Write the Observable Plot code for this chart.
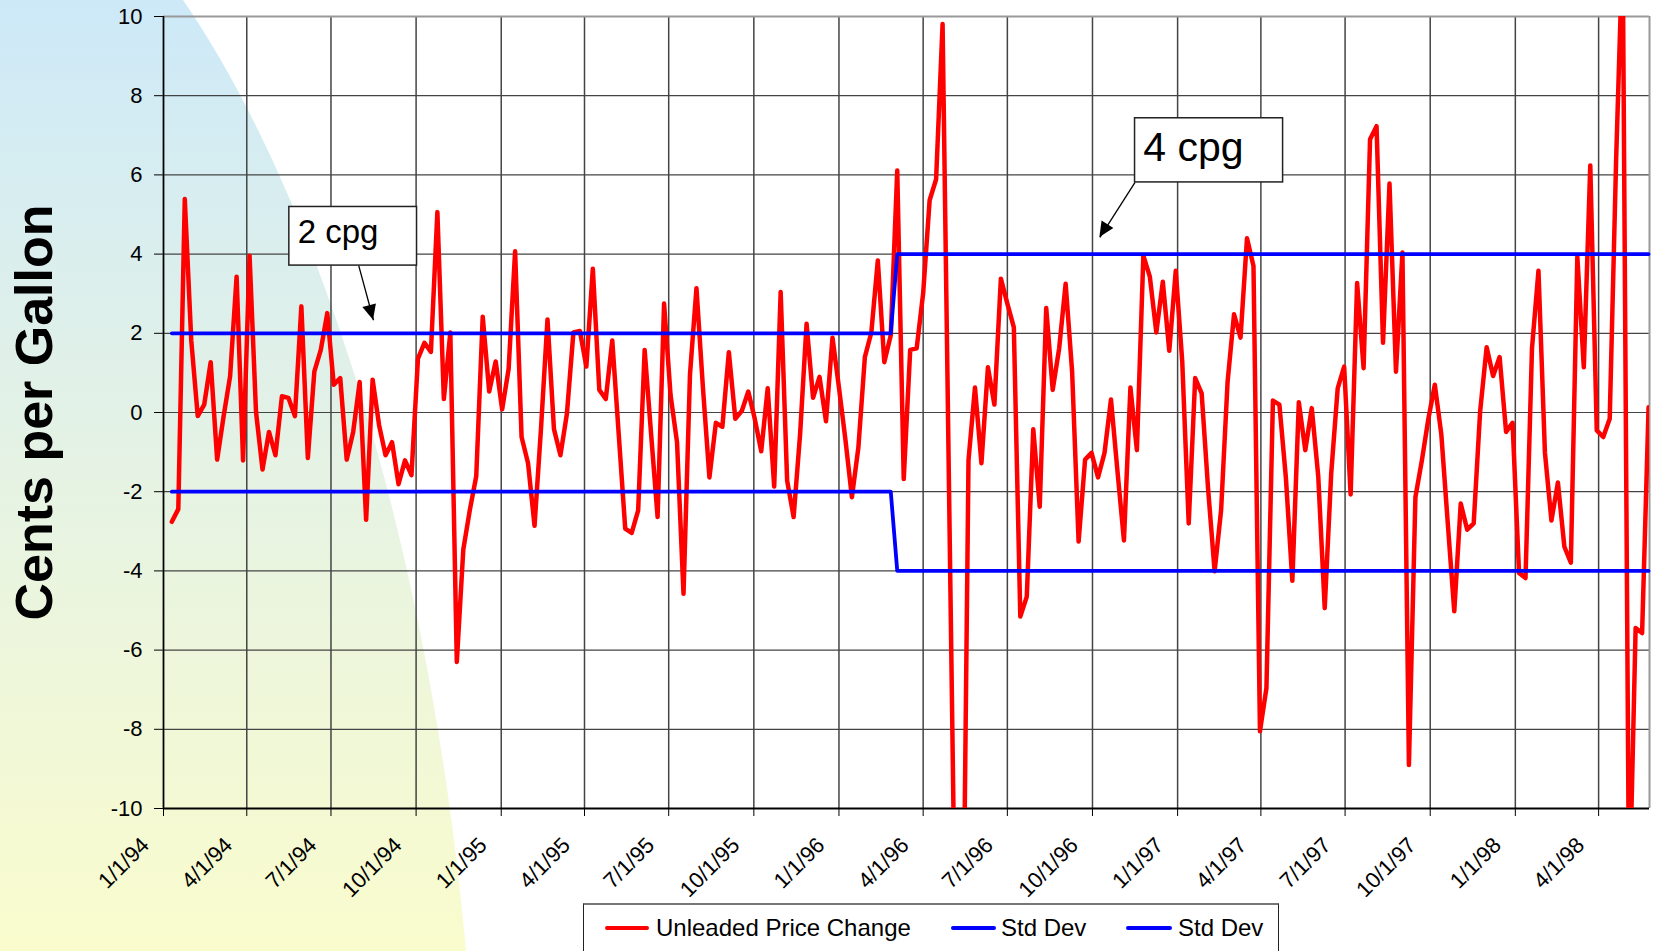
<!DOCTYPE html>
<html><head><meta charset="utf-8">
<script src="https://cdn.jsdelivr.net/npm/d3@7"></script>
<script src="https://cdn.jsdelivr.net/npm/@observablehq/plot@0.6"></script>
<style>
html,body{margin:0;padding:0;background:#fff;overflow:hidden;width:1660px;height:951px;}
#wrap{position:relative;width:1660px;height:951px;font-family:"Liberation Sans",Arial,sans-serif;}
#bg{position:absolute;left:0;top:0;}
#chart{position:absolute;left:0;top:0;}
#legend{position:absolute;left:583px;top:903px;width:696px;height:60px;background:#fff;border:1px solid #222;border-top:2px solid #777;box-sizing:border-box;}
.item{position:absolute;top:8px;font-size:24px;line-height:30px;white-space:nowrap;color:#000;}
.sw{position:absolute;height:4px;top:21px;border-radius:2px;}
</style></head>
<body><div id="wrap">
<svg id="bg" width="1660" height="951"><defs><linearGradient id="g" x1="0" y1="0" x2="0" y2="1"><stop offset="0" stop-color="#cde9f8"/><stop offset="0.5" stop-color="#e6f3e4"/><stop offset="1" stop-color="#fafccd"/></linearGradient></defs><path d="M0,0 L183,0 C300,170 425,500 466,951 L0,951 Z" fill="url(#g)"/></svg>
<div id="chart"></div>
<div id="legend"></div>
</div>
<script>
// ---- data ----
const firstWeek = "1994-01-10";
const priceChange = [
 -2.76,-2.44,5.39,1.82,-0.09,0.2,1.27,-1.19,-0.09,0.92,
 3.43,-1.21,3.96,0.01,-1.44,-0.49,-1.08,0.41,0.37,-0.09,
 2.68,-1.15,1.03,1.58,2.51,0.7,0.87,-1.19,-0.49,0.77,
 -2.71,0.83,-0.32,-1.08,-0.75,-1.81,-1.21,-1.58,1.36,1.76,
 1.53,5.06,0.34,2.02,-6.30,-3.46,-2.47,-1.61,2.42,0.53,
 1.29,0.08,1.1,4.07,-0.62,-1.28,-2.86,-0.4,2.35,-0.42,
 -1.08,-0.03,2.02,2.06,1.16,3.63,0.57,0.34,1.82,-0.55,
 -2.93,-3.04,-2.47,1.58,-0.55,-2.64,2.75,0.44,-0.75,-4.58,
 0.96,3.14,0.63,-1.64,-0.26,-0.36,1.52,-0.16,0.04,0.53,
 -0.16,-0.98,0.61,-1.87,3.04,-1.72,-2.64,-0.55,2.24,0.37,
 0.90,-0.22,1.89,0.63,-0.69,-2.14,-0.88,1.40,2.02,3.84,
 1.27,1.95,6.11,-1.68,1.58,1.62,3.01,5.36,5.89,9.81,
 -2.0,-13.8,-16.5,-1.21,0.63,-1.28,1.14,0.2,3.38,2.75,
 2.15,-5.15,-4.65,-0.42,-2.38,2.64,0.57,1.62,3.25,1.03,
 -3.26,-1.19,-1.02,-1.64,-1.02,0.33,-1.48,-3.23,0.63,-0.95,
 3.96,3.43,2.02,3.30,1.56,3.58,1.29,-2.80,0.87,0.48,
 -1.94,-4.01,-2.47,0.77,2.48,1.89,4.40,3.70,-8.05,-6.96,
 0.30,0.20,-1.64,-4.25,0.26,-0.95,0.11,-1.61,-4.94,-1.54,
 0.61,1.16,-2.07,3.27,1.12,6.90,7.23,1.76,5.78,1.03,
 4.04,-8.90,-2.14,-1.21,-0.16,0.70,-0.55,-2.80,-5.02,-2.30,
 -2.96,-2.80,0.04,1.65,0.92,1.40,-0.49,-0.26,-4.05,-4.18,
 1.62,3.58,-1.02,-2.73,-1.77,-3.39,-3.79,3.93,1.14,6.24,
 -0.45,-0.62,-0.16,6.44,11.8,-12.6,-5.44,-5.57,0.13
];
const stdDevLevels = [2, 4];
const stdDevWeeks = [112, 117];
const xTickLabels = ["1/1/94","4/1/94","7/1/94","10/1/94","1/1/95","4/1/95","7/1/95","10/1/95","1/1/96","4/1/96","7/1/96","10/1/96","1/1/97","4/1/97","7/1/97","10/1/97","1/1/98","4/1/98"];
const yTicks = [-10,-8,-6,-4,-2,0,2,4,6,8,10];
const xDomainLabels = ["1/1/94","5/26/98"];
const seriesNames = ["Unleaded Price Change","Std Dev","Std Dev"];
const seriesColors = ["#ff0000","#0000ff","#0000ff"];
const annotations = [
  {text:"2 cpg", box:["5/17/94","10/2/94",3.71,5.19], textAt:["5/26/94",4.55], size:33, from:["7/31/94",3.71], to:["8/16/94",2.33]},
  {text:"4 cpg", box:["11/16/96","4/25/97",5.81,7.43], textAt:["11/25/96",6.68], size:41, from:["11/16/96",5.81], to:["10/9/96",4.42]}
];

// ---- build ----
const parse = s => { const [m,d,y] = s.split("/").map(Number); return new Date(Date.UTC(1900 + y, m - 1, d)); };
const start = d3.utcParse("%Y-%m-%d")(firstWeek);
const dates = priceChange.map((_, i) => d3.utcDay.offset(start, 7 * i));
const rows = priceChange.map((v, i) => ({date: dates[i], value: v}));
const stdRows = [];
let idx = 0;
stdDevLevels.forEach((lv, k) => { for (let j = 0; j < stdDevWeeks[k]; j++, idx++) stdRows.push({date: dates[idx], upper: lv, lower: -lv}); });
const xTicks = xTickLabels.map(parse);
const xDomain = xDomainLabels.map(parse);
const font = "'Liberation Sans', Arial, sans-serif";

const ann = annotations.map(a => ({
  text: a.text, size: a.size,
  bx1: parse(a.box[0]), bx2: parse(a.box[1]), by1: a.box[2], by2: a.box[3],
  tx: parse(a.textAt[0]), ty: a.textAt[1],
  fx: parse(a.from[0]), fy: a.from[1], ex: parse(a.to[0]), ey: a.to[1]
}));

const plot = Plot.plot({
  width: 1660, height: 905,
  marginLeft: 163, marginRight: 11, marginTop: 16, marginBottom: 97,
  style: {background: "transparent", fontSize: "22px", fontFamily: font, color: "#000"},
  x: {type: "utc", domain: xDomain, ticks: xTicks, tickFormat: () => "", tickSize: 8, label: null},
  y: {domain: [-10, 10], ticks: yTicks, tickFormat: d => String(d), tickSize: 9, tickPadding: 12, label: null},
  marks: [
    Plot.ruleY(yTicks, {stroke: "#444", strokeWidth: 1.2}),
    Plot.ruleX(xTicks, {stroke: "#444", strokeWidth: 1.5}),
    Plot.ruleY([10], {stroke: "#999", strokeWidth: 2}),
    Plot.ruleX([xDomain[1]], {stroke: "#999", strokeWidth: 2}),
    Plot.ruleX([xDomain[0]], {stroke: "#000", strokeWidth: 1.5}),
    Plot.ruleY([-10], {stroke: "#000", strokeWidth: 2}),
    Plot.lineY(rows, {x: "date", y: "value", stroke: seriesColors[0], strokeWidth: 4.5, clip: true}),
    Plot.lineY(stdRows, {x: "date", y: "upper", stroke: seriesColors[1], strokeWidth: 3.8}),
    Plot.lineY(stdRows, {x: "date", y: "lower", stroke: seriesColors[2], strokeWidth: 3.8}),
    Plot.text(xTickLabels, {x: parse, text: d => d, frameAnchor: "bottom", rotate: -45, textAnchor: "end", dx: -13, dy: 38, fontSize: 22}),
    Plot.text(["Cents per Gallon"], {frameAnchor: "left", textAnchor: "middle", rotate: -90, dx: -128, fontSize: 52, fontWeight: "bold"}),
    Plot.link(ann, {x1: "fx", y1: "fy", x2: "ex", y2: "ey", stroke: "#000", strokeWidth: 1.3}),
    Plot.rect(ann, {x1: "bx1", x2: "bx2", y1: "by1", y2: "by2", fill: "#fff", stroke: "#222", strokeWidth: 1.5}),
    Plot.text(ann, {x: "tx", y: "ty", text: "text", textAnchor: "start", fontSize: d => d.size})
  ]
});
document.getElementById("chart").appendChild(plot);

// filled arrowheads
const sx = plot.scale("x"), sy = plot.scale("y");
const svg = d3.select(plot.tagName.toLowerCase() === "svg" ? plot : plot.querySelector("svg"));
ann.forEach(a => {
  const x1 = sx.apply(a.fx), y1 = sy.apply(a.fy), x2 = sx.apply(a.ex), y2 = sy.apply(a.ey);
  const ang = Math.atan2(y2 - y1, x2 - x1), L = 15, W = 7;
  const bx = x2 - L * Math.cos(ang), by = y2 - L * Math.sin(ang);
  const px = -Math.sin(ang) * W, py = Math.cos(ang) * W;
  svg.append("polygon").attr("points", `${x2},${y2} ${bx + px},${by + py} ${bx - px},${by - py}`).attr("fill", "#000");
});

// legend
const swLeft = [21, 367, 542], txLeft = [72, 417, 594], swW = [44, 45, 46];
const lg = document.getElementById("legend");
seriesNames.forEach((n, i) => {
  const s = document.createElement("div"); s.className = "sw";
  s.style.left = swLeft[i] + "px"; s.style.width = swW[i] + "px"; s.style.background = seriesColors[i];
  lg.appendChild(s);
  const t = document.createElement("div"); t.className = "item";
  t.style.left = txLeft[i] + "px"; t.textContent = n;
  lg.appendChild(t);
});
</script>
</body></html>
